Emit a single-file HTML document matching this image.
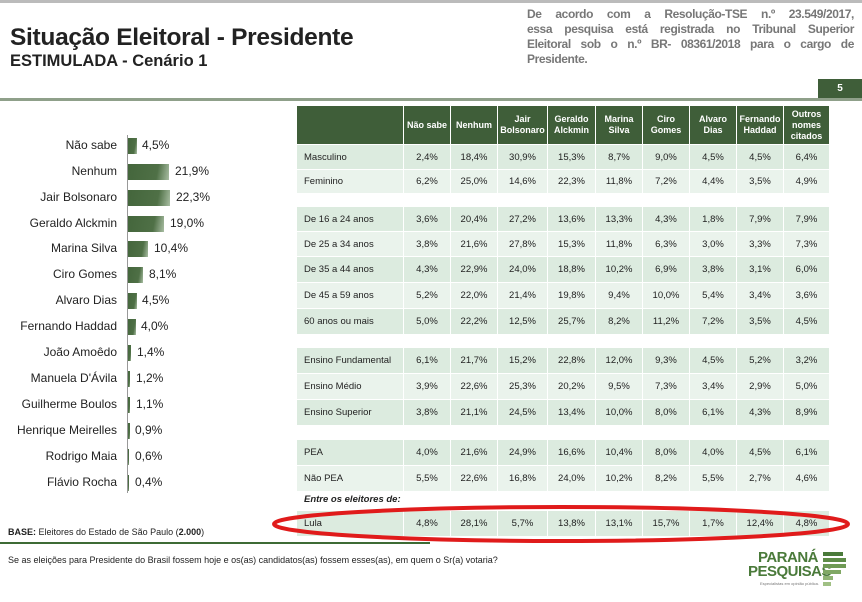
<!DOCTYPE html>
<html><head><meta charset="utf-8"><style>
body{margin:0;width:862px;height:602px;position:relative;background:#fff;font-family:"Liberation Sans",sans-serif;overflow:hidden}
.a{position:absolute}
.row{position:absolute;left:297px;display:grid;grid-template-columns:107px 47px 47px 50px 48px 47px 47px 47px 47px 46px;font-size:9.5px;color:#222}
.row div{border-right:1px solid #fff;display:flex;align-items:center;justify-content:center}
.row div:first-child{justify-content:flex-start;padding-left:7px}
.d{background:#dcebdf}.l{background:#eaf3ec}
.hd{background:#3f5e39;color:#fff;font-weight:bold;font-size:9px;text-align:center;line-height:11px}
.lab{position:absolute;right:745px;font-size:12px;color:#222;text-align:right;white-space:nowrap}
.bar{position:absolute;left:128px;height:16px;background:linear-gradient(100deg,#44663c 0%,#4f7046 70%,#a9bea3 100%)}
.val{position:absolute;font-size:12px;color:#222}
.tr{position:absolute;left:527px;width:327px;font-size:12px;letter-spacing:-0.4px;font-weight:bold;color:#777;text-align:justify;text-align-last:justify;white-space:nowrap;height:15px}
</style></head><body>
<div class="a" style="left:0;top:0;width:862px;height:3px;background:#bbb"></div>
<div class="a" style="left:10px;top:24px;font-size:24.5px;font-weight:bold;color:#222;letter-spacing:-0.3px">Situação Eleitoral - Presidente</div>
<div class="a" style="left:10px;top:52px;font-size:16.5px;font-weight:bold;color:#222">ESTIMULADA - Cenário 1</div>
<div class="tr" style="top:7px">De acordo com a Resolução-TSE n.º 23.549/2017,</div>
<div class="tr" style="top:22px">essa pesquisa está registrada no Tribunal Superior</div>
<div class="tr" style="top:37px">Eleitoral sob o n.º BR- 08361/2018 para o cargo de</div>
<div class="a" style="left:527px;top:52px;font-size:12px;letter-spacing:-0.4px;font-weight:bold;color:#777">Presidente.</div>
<div class="a" style="left:818px;top:79px;width:44px;height:20px;background:#3f5e39;color:#fff;font-size:10px;font-weight:bold;text-align:center;line-height:20px">5</div>
<div class="a" style="left:0;top:98px;width:862px;height:3px;background:#8fa08a"></div>

<div class="a" style="left:127px;top:135px;width:1px;height:358px;background:#999"></div>
<div class="lab" style="top:138px">Não sabe</div><div class="bar" style="top:138px;width:9px"></div><div class="val" style="left:142px;top:138px">4,5%</div>
<div class="lab" style="top:164px">Nenhum</div><div class="bar" style="top:164px;width:41px"></div><div class="val" style="left:175px;top:164px">21,9%</div>
<div class="lab" style="top:190px">Jair Bolsonaro</div><div class="bar" style="top:190px;width:42px"></div><div class="val" style="left:176px;top:190px">22,3%</div>
<div class="lab" style="top:216px">Geraldo Alckmin</div><div class="bar" style="top:216px;width:36px"></div><div class="val" style="left:170px;top:216px">19,0%</div>
<div class="lab" style="top:241px">Marina Silva</div><div class="bar" style="top:241px;width:20px"></div><div class="val" style="left:154px;top:241px">10,4%</div>
<div class="lab" style="top:267px">Ciro Gomes</div><div class="bar" style="top:267px;width:15px"></div><div class="val" style="left:149px;top:267px">8,1%</div>
<div class="lab" style="top:293px">Alvaro Dias</div><div class="bar" style="top:293px;width:9px"></div><div class="val" style="left:142px;top:293px">4,5%</div>
<div class="lab" style="top:319px">Fernando Haddad</div><div class="bar" style="top:319px;width:8px"></div><div class="val" style="left:141px;top:319px">4,0%</div>
<div class="lab" style="top:345px">João Amoêdo</div><div class="bar" style="top:345px;width:3px"></div><div class="val" style="left:137px;top:345px">1,4%</div>
<div class="lab" style="top:371px">Manuela D'Ávila</div><div class="bar" style="top:371px;width:2px"></div><div class="val" style="left:136px;top:371px">1,2%</div>
<div class="lab" style="top:397px">Guilherme Boulos</div><div class="bar" style="top:397px;width:2px"></div><div class="val" style="left:136px;top:397px">1,1%</div>
<div class="lab" style="top:423px">Henrique Meirelles</div><div class="bar" style="top:423px;width:2px"></div><div class="val" style="left:135px;top:423px">0,9%</div>
<div class="lab" style="top:449px">Rodrigo Maia</div><div class="bar" style="top:449px;width:1px"></div><div class="val" style="left:135px;top:449px">0,6%</div>
<div class="lab" style="top:475px">Flávio Rocha</div><div class="bar" style="top:475px;width:1px"></div><div class="val" style="left:135px;top:475px">0,4%</div>

<div class="row hd" style="top:106px;height:38px"><div></div><div>Não sabe</div><div>Nenhum</div><div>Jair<br>Bolsonaro</div><div>Geraldo<br>Alckmin</div><div>Marina<br>Silva</div><div>Ciro<br>Gomes</div><div>Alvaro<br>Dias</div><div>Fernando<br>Haddad</div><div>Outros<br>nomes<br>citados</div></div>
<div class="row d" style="top:145px;height:24px"><div>Masculino</div><div>2,4%</div><div>18,4%</div><div>30,9%</div><div>15,3%</div><div>8,7%</div><div>9,0%</div><div>4,5%</div><div>4,5%</div><div>6,4%</div></div>
<div class="row l" style="top:170px;height:23px"><div>Feminino</div><div>6,2%</div><div>25,0%</div><div>14,6%</div><div>22,3%</div><div>11,8%</div><div>7,2%</div><div>4,4%</div><div>3,5%</div><div>4,9%</div></div>
<div class="row d" style="top:207px;height:24px"><div>De 16 a 24 anos</div><div>3,6%</div><div>20,4%</div><div>27,2%</div><div>13,6%</div><div>13,3%</div><div>4,3%</div><div>1,8%</div><div>7,9%</div><div>7,9%</div></div>
<div class="row l" style="top:232px;height:24px"><div>De 25 a 34 anos</div><div>3,8%</div><div>21,6%</div><div>27,8%</div><div>15,3%</div><div>11,8%</div><div>6,3%</div><div>3,0%</div><div>3,3%</div><div>7,3%</div></div>
<div class="row d" style="top:257px;height:25px"><div>De 35 a 44 anos</div><div>4,3%</div><div>22,9%</div><div>24,0%</div><div>18,8%</div><div>10,2%</div><div>6,9%</div><div>3,8%</div><div>3,1%</div><div>6,0%</div></div>
<div class="row l" style="top:283px;height:25px"><div>De 45 a 59 anos</div><div>5,2%</div><div>22,0%</div><div>21,4%</div><div>19,8%</div><div>9,4%</div><div>10,0%</div><div>5,4%</div><div>3,4%</div><div>3,6%</div></div>
<div class="row d" style="top:309px;height:25px"><div>60 anos ou mais</div><div>5,0%</div><div>22,2%</div><div>12,5%</div><div>25,7%</div><div>8,2%</div><div>11,2%</div><div>7,2%</div><div>3,5%</div><div>4,5%</div></div>
<div class="row d" style="top:348px;height:25px"><div>Ensino Fundamental</div><div>6,1%</div><div>21,7%</div><div>15,2%</div><div>22,8%</div><div>12,0%</div><div>9,3%</div><div>4,5%</div><div>5,2%</div><div>3,2%</div></div>
<div class="row l" style="top:374px;height:25px"><div>Ensino Médio</div><div>3,9%</div><div>22,6%</div><div>25,3%</div><div>20,2%</div><div>9,5%</div><div>7,3%</div><div>3,4%</div><div>2,9%</div><div>5,0%</div></div>
<div class="row d" style="top:400px;height:25px"><div>Ensino Superior</div><div>3,8%</div><div>21,1%</div><div>24,5%</div><div>13,4%</div><div>10,0%</div><div>8,0%</div><div>6,1%</div><div>4,3%</div><div>8,9%</div></div>
<div class="row d" style="top:440px;height:25px"><div>PEA</div><div>4,0%</div><div>21,6%</div><div>24,9%</div><div>16,6%</div><div>10,4%</div><div>8,0%</div><div>4,0%</div><div>4,5%</div><div>6,1%</div></div>
<div class="row l" style="top:466px;height:25px"><div>Não PEA</div><div>5,5%</div><div>22,6%</div><div>16,8%</div><div>24,0%</div><div>10,2%</div><div>8,2%</div><div>5,5%</div><div>2,7%</div><div>4,6%</div></div>
<div class="a" style="left:304px;top:494px;font-size:9.5px;font-weight:bold;font-style:italic;color:#222">Entre os eleitores de:</div>
<div class="row d" style="top:511px;height:25px"><div>Lula</div><div>4,8%</div><div>28,1%</div><div>5,7%</div><div>13,8%</div><div>13,1%</div><div>15,7%</div><div>1,7%</div><div>12,4%</div><div>4,8%</div></div>
<svg class="a" style="left:0;top:0" width="862" height="602"><ellipse cx="561" cy="524" rx="287" ry="17" fill="none" stroke="#e01b1b" stroke-width="4"/></svg>

<div class="a" style="left:8px;top:527px;font-size:9px;color:#222"><b>BASE:</b> Eleitores do Estado de São Paulo (<b>2.000</b>)</div>
<div class="a" style="left:0;top:542px;width:430px;height:2px;background:#3d6b35"></div>
<div class="a" style="left:8px;top:555px;font-size:9px;color:#222">Se as eleições para Presidente do Brasil fossem hoje e os(as) candidatos(as) fossem esses(as), em quem o Sr(a) votaria?</div>
<div class="a" style="left:748px;top:551px;font-size:15px;font-weight:bold;color:#4a7a3a;line-height:14px;text-align:right;width:70px;letter-spacing:-0.5px">PARANÁ<br>PESQUISAS</div>
<div class="a" style="left:760px;top:581px;font-size:4px;color:#777">Especialistas em opinião pública.</div>
<div class="a" style="left:823px;top:552px;width:20px;height:4px;background:#4a7a3a"></div>
<div class="a" style="left:823px;top:558px;width:23px;height:4px;background:#5e8c48"></div>
<div class="a" style="left:823px;top:564px;width:23px;height:4px;background:#6f9a55"></div>
<div class="a" style="left:823px;top:570px;width:18px;height:4px;background:#80a864"></div>
<div class="a" style="left:823px;top:576px;width:10px;height:4px;background:#90b474"></div>
<div class="a" style="left:823px;top:582px;width:8px;height:4px;background:#a0c084"></div>
</body></html>
